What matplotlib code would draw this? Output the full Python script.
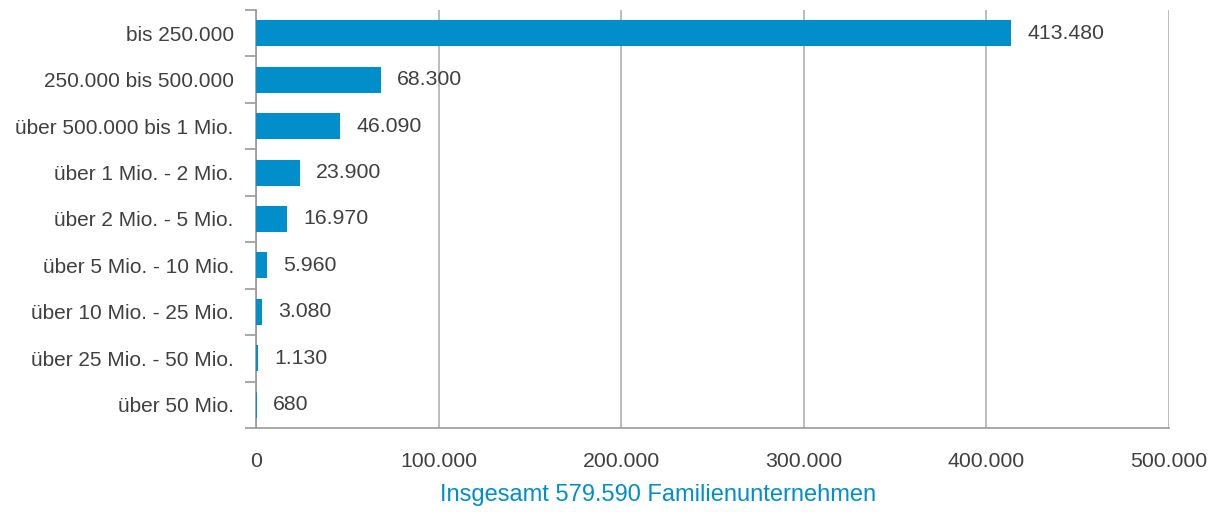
import matplotlib.pyplot as plt
import numpy as np

# Daten
kategorien = ["bis 250.000", "250.000 bis 500.000", "über 500.000 bis 1 Mio.",
              "über 1 Mio. - 2 Mio.", "über 2 Mio. - 5 Mio.", "über 5 Mio. - 10 Mio.",
              "über 10 Mio. - 25 Mio.", "über 25 Mio. - 50 Mio.", "über 50 Mio."]
werte = [413480, 68300, 46090, 23900, 16970, 5960, 3080, 1130, 680]
xticks = [0, 100000, 200000, 300000, 400000, 500000]
titel = "Insgesamt 579.590 Familienunternehmen"

def fmt(v):
    return f"{v:,}".replace(",", ".")

plt.rcParams['font.family'] = ['Liberation Sans', 'DejaVu Sans']
blau = '#008fca'
grau = '#404040'

fig = plt.figure(figsize=(12.16, 5.12), dpi=100)
ax = fig.add_axes([256/1216, 1-428/512, (1169-256)/1216, 418/512])

y = np.arange(len(kategorien))
ax.barh(y, werte, height=0.56, color=blau, zorder=3)
for yi, v in zip(y, werte):
    ax.text(v + 8800, yi, fmt(v), va='center', ha='left', fontsize=15.3, color=grau)

ax.set_ylim(len(kategorien) - 0.5, -0.5)
ax.set_xlim(0, 500000)
ax.set_xticks(xticks)
ax.set_xticklabels([fmt(t) for t in xticks], fontsize=15.3, color=grau)
ax.set_yticks(y)
ax.set_yticklabels(kategorien, fontsize=15, color=grau)
ax.tick_params(axis='y', length=0, pad=16)
ax.tick_params(axis='x', length=0, pad=17)
ax.set_yticks(np.arange(-0.5, len(kategorien)), minor=True)
ax.tick_params(axis='y', which='minor', length=8, color='#999999', width=1.2)

ax.grid(axis='x', color='#b0b0b0', linewidth=1.2, zorder=0)
for s in ['top', 'right']:
    ax.spines[s].set_visible(False)
for s in ['left', 'bottom']:
    ax.spines[s].set_color('#999999')
    ax.spines[s].set_linewidth(1.2)

fig.text(658/1216, 1-495/512, titel, ha='center', va='center',
         fontsize=17, color=blau)

fig.savefig('out.png', dpi=100)
